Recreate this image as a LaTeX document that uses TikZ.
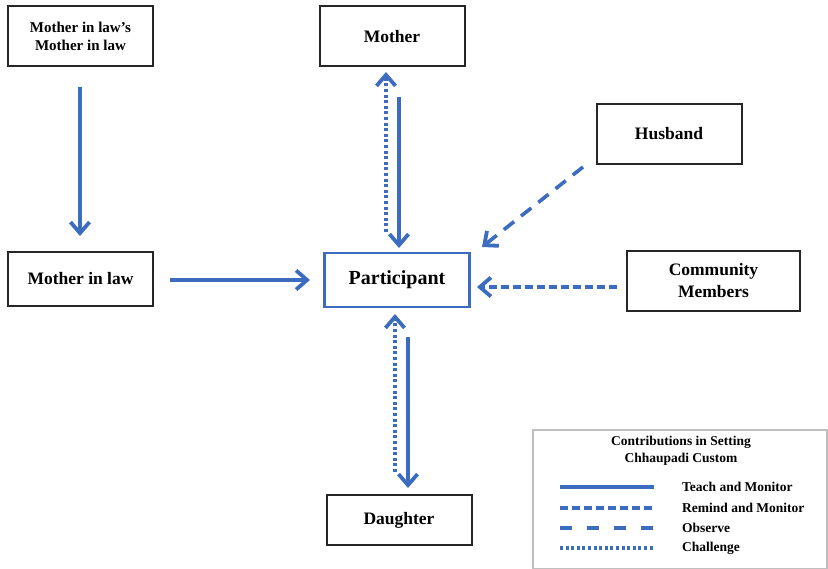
\documentclass[tikz,border=0pt]{standalone}
\usepackage{fontspec}
\setmainfont{Liberation Serif}
\usetikzlibrary{arrows.meta}
\definecolor{arrblue}{RGB}{59,108,191}
\tikzset{
  x=1pt,y=-1pt,
  box/.style={draw=black!85,line width=2pt,minimum width=145pt,minimum height=60pt,align=center,font=\bfseries\fontsize{17.5}{20}\selectfont,inner sep=2pt},
  conn/.style={draw=arrblue,line width=3.6pt,-{Straight Barb[length=11pt,width=19pt,line width=3.8pt]}},
  teach/.style={conn},
  remind/.style={conn,dash pattern=on 8pt off 4pt},
  observe/.style={conn,dash pattern=on 13pt off 9pt},
  challenge/.style={conn,dash pattern=on 3pt off 2.6pt},
  legline/.style={draw=arrblue,line width=3.6pt},
  leglabel/.style={anchor=west,font=\bfseries\fontsize{13.5}{16}\selectfont,inner sep=0pt}
}
\begin{document}
\begin{tikzpicture}
\useasboundingbox (0,0) rectangle (828,569);
\fill[white] (0,0) rectangle (828,569);
\node[box,font=\bfseries\fontsize{15}{18}\selectfont] (mm) at (80.5,36.5) {Mother in law's\\Mother in law};
\node[box] (mo) at (392,36.5) {Mother};
\node[box,minimum height=60pt] (hu) at (669,134) {Husband};
\node[box,minimum height=54pt] (ml) at (80.5,279) {Mother in law};
\node[box,draw=arrblue,line width=2.6pt,minimum height=54pt,font=\bfseries\fontsize{20}{24}\selectfont] (pa) at (397,280) {Participant};
\node[box,minimum width=173pt,minimum height=60pt,font=\bfseries\fontsize{17.5}{22}\selectfont] (cm) at (713.5,281) {Community\\Members};
\node[box,minimum height=50pt] (da) at (399,520) {Daughter};
% connectors
\coordinate (a1) at (80,87); \coordinate (a2) at (80,236);
\draw[teach] (a1) -- (a2);
\coordinate (b1) at (170,280); \coordinate (b2) at (310,280);
\draw[teach] (b1) -- (b2);
\coordinate (c1) at (399,97); \coordinate (c2) at (399,248);
\draw[teach] (c1) -- (c2);
\coordinate (d1) at (386,232); \coordinate (d2) at (386,72);
\draw[challenge] (d1) -- (d2);
\coordinate (e1) at (583,167); \coordinate (e2) at (482,247);
\draw[observe] (e1) -- (e2);
\coordinate (f1) at (617,287); \coordinate (f2) at (477,287);
\draw[remind] (f1) -- (f2);
\coordinate (g1) at (408,337); \coordinate (g2) at (408,488);
\draw[teach] (g1) -- (g2);
\coordinate (h1) at (395,472); \coordinate (h2) at (395,314);
\draw[challenge] (h1) -- (h2);
% legend
\node[draw=black!25,line width=2pt,minimum width=294pt,minimum height=139pt,anchor=north west,inner sep=0pt] (leg) at (532,429) {};
\node[align=center,font=\bfseries\fontsize{13.5}{17}\selectfont,inner sep=0pt] (legt) at (681,451) {Contributions in Setting\\Chhaupadi Custom};
\coordinate (l1a) at (560,487); \coordinate (l1b) at (654,487);
\draw[legline] (l1a) -- (l1b);
\node[leglabel] (l1) at (682,487) {Teach and Monitor};
\coordinate (l2a) at (560,508); \coordinate (l2b) at (654,508);
\draw[legline,dash pattern=on 8pt off 4pt] (l2a) -- (l2b);
\node[leglabel] (l2) at (682,508) {Remind and Monitor};
\coordinate (l3a) at (560,528); \coordinate (l3b) at (654,528);
\draw[legline,dash pattern=on 12pt off 15pt] (l3a) -- (l3b);
\node[leglabel] (l3) at (682,528) {Observe};
\coordinate (l4a) at (560,548); \coordinate (l4b) at (654,548);
\draw[legline,dash pattern=on 3pt off 2.6pt] (l4a) -- (l4b);
\node[leglabel] (l4) at (682,548) {Challenge};
\end{tikzpicture}
\end{document}
